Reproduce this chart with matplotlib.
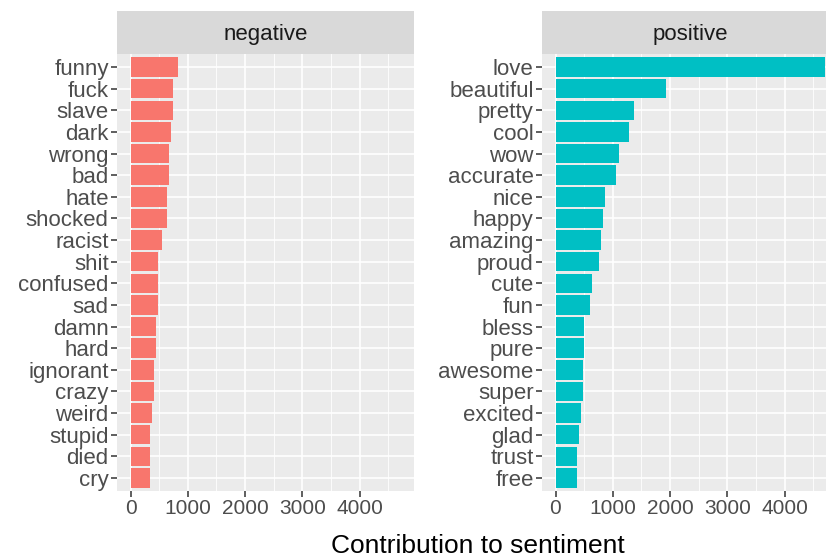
import matplotlib
matplotlib.use("Agg")
import matplotlib.pyplot as plt
from matplotlib.ticker import MultipleLocator

# word contributions
neg_words = ["funny", "fuck", "slave", "dark", "wrong", "bad", "hate", "shocked", "racist", "shit",
             "confused", "sad", "damn", "hard", "ignorant", "crazy", "weird", "stupid", "died", "cry"]
neg_values = [837, 736, 736, 701, 672, 672, 637, 637, 542, 478,
              478, 478, 442, 442, 412, 412, 383, 347, 347, 347]

pos_words = ["love", "beautiful", "pretty", "cool", "wow", "accurate", "nice", "happy", "amazing", "proud",
             "cute", "fun", "bless", "pure", "awesome", "super", "excited", "glad", "trust", "free"]
pos_values = [4710, 1921, 1372, 1279, 1115, 1057, 858, 829, 794, 765,
              631, 601, 502, 502, 473, 473, 438, 409, 374, 374]

panels = ["negative", "positive"]
colors = ["#F8766D", "#00BFC4"]
x_ticks = [0, 1000, 2000, 3000, 4000]

plt.rcParams["font.family"] = ["Liberation Sans", "DejaVu Sans"]

fig = plt.figure(figsize=(8.26, 5.6), dpi=100)
W, H = 826.0, 560.0

xmax = max(neg_values + pos_values)
xlim = (-0.05 * xmax, 1.05 * xmax)

panel_w = 297
panel_top = 54
panel_bot = 491
strip_top = 11
lefts = [117, 542]

data = [(neg_words, neg_values), (pos_words, pos_values)]

for i in range(2):
    words, vals = data[i]
    ax = fig.add_axes([lefts[i] / W, (H - panel_bot) / H, panel_w / W, (panel_bot - panel_top) / H])
    ax.set_facecolor("#EBEBEB")
    n = len(words)
    ypos = list(range(n, 0, -1))
    ax.barh(ypos, vals, height=0.9, color=colors[i], zorder=3)
    ax.set_xlim(*xlim)
    ax.set_ylim(0.4, n + 0.6)
    ax.set_yticks(ypos)
    ax.set_yticklabels(words)
    ax.set_xticks(x_ticks)
    ax.xaxis.set_minor_locator(MultipleLocator(500))
    ax.tick_params(axis="both", which="major", colors="#333333",
                   labelcolor="#4D4D4D", length=4, width=1.1, pad=2)
    ax.tick_params(axis="x", which="major", labelsize=15)
    ax.tick_params(axis="y", which="major", labelsize=16)
    ax.tick_params(axis="x", which="minor", length=0)
    ax.grid(True, which="major", color="white", linewidth=1.2, zorder=1)
    ax.grid(True, which="minor", axis="x", color="white", linewidth=0.6, zorder=1)
    ax.set_axisbelow(True)
    for s in ax.spines.values():
        s.set_visible(False)

    # facet strip
    sax = fig.add_axes([lefts[i] / W, (H - panel_top) / H, panel_w / W, (panel_top - strip_top) / H])
    sax.set_facecolor("#D9D9D9")
    sax.set_xticks([])
    sax.set_yticks([])
    for s in sax.spines.values():
        s.set_visible(False)
    sax.text(0.5, 0.45, panels[i], transform=sax.transAxes,
             ha="center", va="center", fontsize=16, color="#1A1A1A")

fig.text(478 / W, 1 - 546 / H, "Contribution to sentiment", ha="center", va="center",
         fontsize=19, color="black")

fig.savefig("out.png", dpi=100)
